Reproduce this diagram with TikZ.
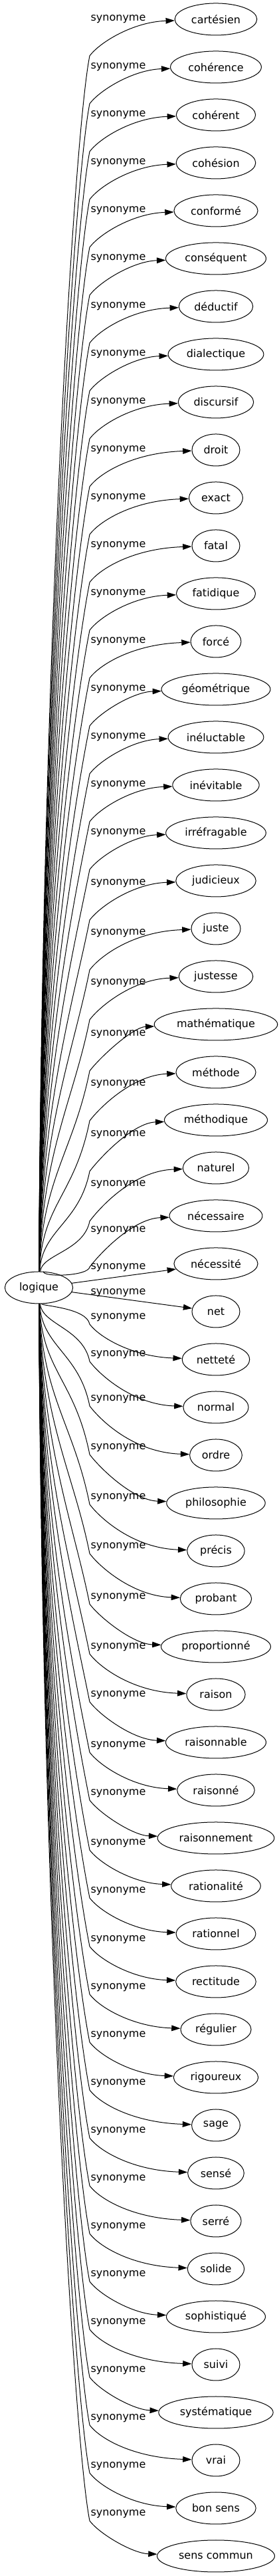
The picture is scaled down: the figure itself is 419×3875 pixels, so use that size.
\documentclass[tikz,border=0pt]{standalone}
\usepackage{fontspec}
\setmainfont{DejaVu Sans}
\usetikzlibrary{arrows.meta,shapes.geometric}

\begin{document}
\begin{tikzpicture}[
  x=0.75pt,y=0.75pt,
  font=\fontsize{12}{14}\selectfont,
  term/.style={draw, ellipse, line width=0.75pt, inner xsep=5pt, inner ysep=2pt, minimum width=54pt, minimum height=36pt},
  rel/.style={inner sep=0pt},
  arr/.style={-{Triangle[length=10pt,width=6.5pt]}, line width=0.75pt}
]
  \fill[white] (0,0) rectangle (419,3875);

  \node[term] (root) at (58.5,1938) {logique};

  % upper fan
  \foreach \w/\off [count=\i from 0] in {cartésien/0, cohérence/0, cohérent/0, cohésion/0, conformé/0, conséquent/0, déductif/0, dialectique/0, discursif/0, droit/0, exact/0, fatal/0, fatidique/0, forcé/0, géométrique/0, inéluctable/0, inévitable/0, irréfragable/0, judicieux/4, juste/7, justesse/10, mathématique/15, méthode/18, méthodique/22, naturel/25, nécessaire/22}{
    \pgfmathsetmacro\yn{3846-72*\i}
    \pgfmathsetmacro\yl{\yn-(\off)}
    \pgfmathsetmacro\yk{\yl-55}
    \pgfmathsetmacro\kd{min(120,0.45*abs(1938-\yk))}
    \node[term] (w\i) at (325,\yn) {\w};
    \node[rel] (l\i) at (178,\yl) {synonyme};
    \draw[arr] (root) .. controls (63,{(1938+\yk)/2}) and ({135-0.2*\kd},{\yk-\kd}) .. (135,\yk)
      .. controls (150,{\yk+20}) and (200,{\yn-4}) .. (w\i);
  }

  \node[term] (w26) at (325,1974) {nécessité};
  \node[rel] (l26) at (178,1968) {synonyme};
  \draw[arr] (root) -- (w26);

  \node[term] (w27) at (325,1902) {net};
  \node[rel] (l27) at (178,1930) {synonyme};
  \draw[arr] (root) -- (w27);

  % lower fan
  \foreach \w/\off [count=\i from 28] in {netteté/-63, normal/-79, ordre/-84, philosophie/-83, précis/-80, probant/-78, proportionné/-74, raison/-71, raisonnable/-71, raisonné/-67, raisonnement/-67, rationalité/-64, rationnel/-64, rectitude/-63, régulier/-63, rigoureux/-63, sage/-63, sensé/-63, serré/-63, solide/-63, sophistiqué/-63, suivi/-63, systématique/-63, vrai/-63, bon sens/-63, sens commun/-63}{
    \pgfmathsetmacro\yn{3846-72*\i}
    \pgfmathsetmacro\yl{\yn-(\off)}
    \pgfmathsetmacro\yk{\yl-10}
    \pgfmathsetmacro\kd{min(120,0.45*abs(1938-\yk))}
    \node[term] (w\i) at (325,\yn) {\w};
    \node[rel] (l\i) at (178,\yl) {synonyme};
    \draw[arr] (root) .. controls (63,{(1938+\yk)/2}) and ({135-0.2*\kd},{\yk+\kd}) .. (135,\yk)
      .. controls (150,{\yk-20}) and (200,{\yn+4}) .. (w\i);
  }
\end{tikzpicture}
\end{document}
